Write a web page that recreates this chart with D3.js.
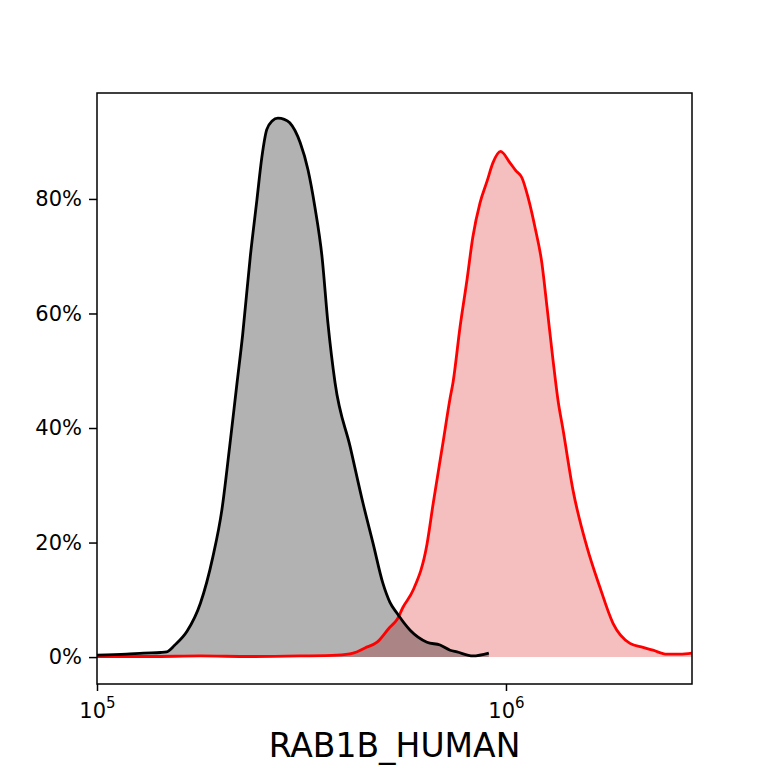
<!DOCTYPE html>
<html>
<head>
<meta charset="utf-8">
<script src="https://cdn.jsdelivr.net/npm/d3@7"></script>
<style>
  body { margin: 0; background: #fff; }
  text { font-family: "DejaVu Sans", sans-serif; fill: #000; }
</style>
</head>
<body>
<div id="chart"></div>
<script>
// control sample (black) - intensity, percent of max
const controlX = [1.00e5, 1.18e5, 1.30e5, 1.43e5, 1.48e5, 1.55e5, 1.66e5, 1.79e5, 1.92e5, 2.02e5,
  2.11e5, 2.20e5, 2.27e5, 2.37e5, 2.46e5, 2.53e5, 2.60e5, 2.68e5, 2.77e5, 2.87e5, 2.96e5,
  3.14e5, 3.28e5, 3.41e5, 3.55e5, 3.67e5, 3.82e5, 4.16e5, 4.47e5, 4.73e5, 5.00e5, 5.20e5,
  5.41e5, 5.83e5, 6.41e5, 6.90e5, 7.30e5, 7.59e5, 8.30e5, 9.08e5]
const controlY = [0.35, 0.5, 0.7, 0.8, 0.9, 2.1, 4.5, 9.4, 17.5, 25.7,
  36.7, 47.9, 56.2, 69.9, 79.8, 87.3, 92.1, 93.6, 94.1, 93.9, 93.3,
  89.8, 85.1, 78.6, 69.9, 58.3, 47.9, 36.7, 26.9, 19.9, 12.9, 9.6,
  7.7, 4.7, 2.6, 2.1, 1.2, 0.9, 0.2, 0.7]

// RAB1B stained sample (red)
const sampleX = [1.00e5, 1.35e5, 1.79e5, 2.37e5, 3.14e5, 3.86e5, 4.23e5, 4.52e5, 4.84e5, 5.20e5,
  5.41e5, 5.60e5, 5.93e5, 6.41e5, 6.63e5, 7.02e5, 7.30e5, 7.42e5, 7.72e5, 8.03e5,
  8.30e5, 8.64e5, 8.99e5, 9.29e5, 9.70e5, 1.023e6, 1.058e6, 1.094e6, 1.132e6, 1.177e6,
  1.224e6, 1.260e6, 1.303e6, 1.340e6, 1.379e6, 1.458e6, 1.578e6, 1.697e6, 1.827e6,
  2.01e6, 2.163e6, 2.288e6, 2.475e6, 2.664e6, 2.85e6]
const sampleY = [0.1, 0.1, 0.2, 0.1, 0.2, 0.35, 0.7, 1.6, 2.6, 5.2,
  6.5, 8.7, 11.7, 19.7, 26.6, 37.6, 45.2, 47.9, 57.6, 65.9,
  73.4, 79.3, 83.1, 86.3, 88.3, 86.3, 84.9, 83.7, 80.3, 75.1,
  68.8, 61.1, 51.9, 44.9, 39.7, 29.2, 19.2, 12.2, 5.9,
  2.4, 1.7, 1.2, 0.5, 0.5, 0.7]

const yTicks = [0, 0.2, 0.4, 0.6, 0.8]
const xTicks = [1e5, 1e6]
const xTickExp = ["5", "6"]
const axisLabel = "RAB1B_HUMAN"

const width = 768, height = 768
const margin = { top: 93, right: 76, bottom: 84, left: 97 }

const svg = d3.select("#chart").append("svg")
  .attr("width", width)
  .attr("height", height)

const x = d3.scaleLog()
  .domain([1e5, 2.85e6])
  .range([margin.left, width - margin.right])
const y = d3.scaleLinear()
  .domain([-0.047, 0.985])
  .range([height - margin.bottom, margin.top])

svg.append("clipPath").attr("id", "plot")
  .append("rect")
  .attr("x", margin.left).attr("y", margin.top)
  .attr("width", width - margin.left - margin.right)
  .attr("height", height - margin.top - margin.bottom)

const toPts = (xs, ys) => xs.map((v, i) => [v, ys[i] / 100])
const control = toPts(controlX, controlY)
const sample = toPts(sampleX, sampleY)

const area = d3.area()
  .curve(d3.curveMonotoneX)
  .x(d => x(d[0]))
  .y0(y(0))
  .y1(d => y(d[1]))
const line = d3.line()
  .curve(d3.curveMonotoneX)
  .x(d => x(d[0]))
  .y(d => y(d[1]))

const g = svg.append("g").attr("clip-path", "url(#plot)")

g.append("path").attr("d", area(sample))
  .attr("fill", "#f5bfbf")
g.append("path").attr("d", area(control))
  .attr("fill", "black").attr("fill-opacity", 0.3)
g.append("path").attr("d", line(sample))
  .attr("fill", "none").attr("stroke", "red").attr("stroke-width", 2.8)
  .attr("stroke-linejoin", "round")
g.append("path").attr("d", line(control))
  .attr("fill", "none").attr("stroke", "black").attr("stroke-width", 2.8)
  .attr("stroke-linejoin", "round")

// frame
svg.append("rect")
  .attr("x", margin.left).attr("y", margin.top)
  .attr("width", width - margin.left - margin.right)
  .attr("height", height - margin.top - margin.bottom)
  .attr("fill", "none").attr("stroke", "black").attr("stroke-width", 1.5)

// y axis
const yAxis = svg.append("g")
  .attr("transform", `translate(${margin.left},0)`)
  .call(d3.axisLeft(y).tickValues(yTicks).tickSize(8).tickPadding(7)
    .tickFormat(d3.format(".0%")))
yAxis.select(".domain").remove()
yAxis.selectAll(".tick line").attr("stroke-width", 1.5)
yAxis.selectAll(".tick text").attr("font-size", 21)
  .attr("font-family", "DejaVu Sans").attr("fill", "#000")

// x axis with 10^n labels
const xAxis = svg.append("g")
  .attr("transform", `translate(0,${height - margin.bottom})`)
  .call(d3.axisBottom(x).tickValues(xTicks).tickSize(7).tickFormat(() => ""))
xAxis.select(".domain").remove()
xAxis.selectAll(".tick line").attr("stroke-width", 1.5)
xAxis.selectAll(".tick text").remove()
xAxis.selectAll(".tick").append("text")
  .attr("y", 34)
  .attr("text-anchor", "middle")
  .attr("font-size", 21)
  .attr("fill", "#000")
  .each(function (d, i) {
    const t = d3.select(this)
    t.append("tspan").text("10")
    t.append("tspan").attr("dy", -10).attr("font-size", 15).text(xTickExp[i])
  })

svg.append("text")
  .attr("x", (margin.left + width - margin.right) / 2)
  .attr("y", 757)
  .attr("text-anchor", "middle")
  .attr("font-size", 33)
  .text(axisLabel)
</script>
</body>
</html>
